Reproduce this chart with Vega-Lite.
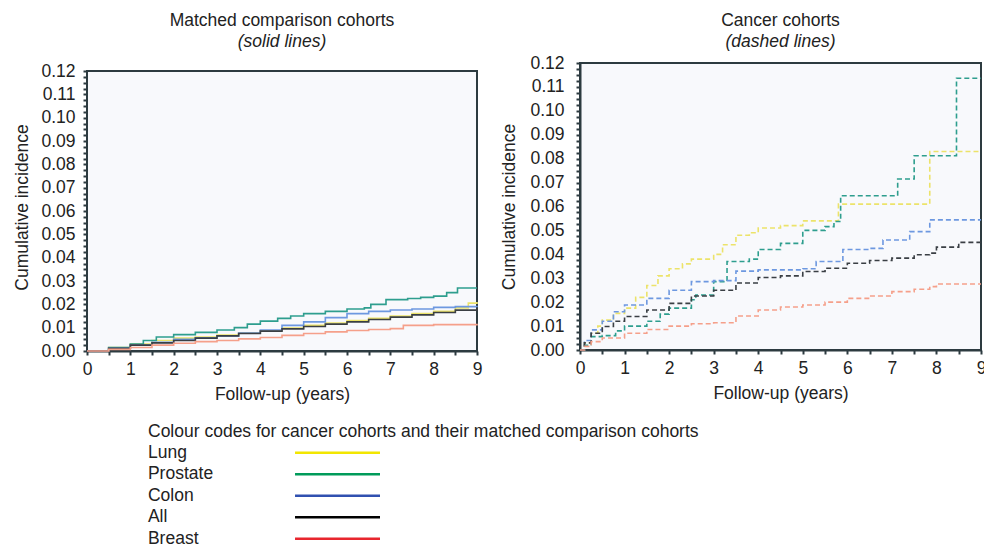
{
  "$schema": "https://vega.github.io/schema/vega-lite/v6.json",
  "padding": {"left": 13, "top": 11, "right": 0, "bottom": 0},
  "background": "white",
  "config": {
    "font": "Liberation Sans",
    "view": {"stroke": "#2d3b40", "strokeWidth": 2, "fill": "#f8f9fc"},
    "axis": {
      "labelFont": "Liberation Sans", "titleFont": "Liberation Sans",
      "labelFontSize": 17.5, "titleFontSize": 17.5, "titleFontWeight": "normal",
      "labelColor": "#222222", "titleColor": "#222222",
      "domainColor": "#2d3b40", "domainWidth": 2,
      "tickColor": "#2d3b40", "tickWidth": 2, "tickSize": 4,
      "grid": false, "labelOverlap": false, "labelFlush": false
    },
    "axisX": {"labelPadding": 5, "titlePadding": 8},
    "axisY": {"labelPadding": 8, "titlePadding": 9},
    "title": {"font": "Liberation Sans", "fontSize": 17.5, "fontWeight": "normal", "color": "#222222",
      "subtitleFont": "Liberation Sans", "subtitleFontSize": 17.5, "subtitleFontStyle": "italic", "subtitleColor": "#222222", "subtitlePadding": 3}
  },
  "datasets": {
    "matched": [
      {"cohort":"Lung","year":0,"ci":0},{"cohort":"Lung","year":0.5,"ci":0.0015},{"cohort":"Lung","year":1,"ci":0.003},{"cohort":"Lung","year":1.5,"ci":0.0045},{"cohort":"Lung","year":2,"ci":0.0055},{"cohort":"Lung","year":2.5,"ci":0.006},{"cohort":"Lung","year":3,"ci":0.0068},{"cohort":"Lung","year":3.5,"ci":0.0077},{"cohort":"Lung","year":4,"ci":0.0087},{"cohort":"Lung","year":4.5,"ci":0.0098},{"cohort":"Lung","year":5,"ci":0.011},{"cohort":"Lung","year":5.5,"ci":0.012},{"cohort":"Lung","year":6,"ci":0.013},{"cohort":"Lung","year":6.5,"ci":0.014},{"cohort":"Lung","year":7,"ci":0.015},{"cohort":"Lung","year":7.5,"ci":0.016},{"cohort":"Lung","year":8,"ci":0.017},{"cohort":"Lung","year":8.5,"ci":0.0185},{"cohort":"Lung","year":8.8,"ci":0.0205},{"cohort":"Lung","year":9,"ci":0.021},
      {"cohort":"Prostate","year":0,"ci":0},{"cohort":"Prostate","year":0.5,"ci":0.0015},{"cohort":"Prostate","year":1,"ci":0.003},{"cohort":"Prostate","year":1.3,"ci":0.0045},{"cohort":"Prostate","year":1.6,"ci":0.006},{"cohort":"Prostate","year":2,"ci":0.007},{"cohort":"Prostate","year":2.5,"ci":0.008},{"cohort":"Prostate","year":3,"ci":0.009},{"cohort":"Prostate","year":3.4,"ci":0.01},{"cohort":"Prostate","year":3.7,"ci":0.0115},{"cohort":"Prostate","year":4,"ci":0.0128},{"cohort":"Prostate","year":4.4,"ci":0.014},{"cohort":"Prostate","year":4.7,"ci":0.015},{"cohort":"Prostate","year":5,"ci":0.016},{"cohort":"Prostate","year":5.5,"ci":0.017},{"cohort":"Prostate","year":6,"ci":0.018},{"cohort":"Prostate","year":6.4,"ci":0.0185},{"cohort":"Prostate","year":6.55,"ci":0.02},{"cohort":"Prostate","year":6.9,"ci":0.022},{"cohort":"Prostate","year":7.4,"ci":0.0225},{"cohort":"Prostate","year":7.7,"ci":0.023},{"cohort":"Prostate","year":8,"ci":0.0235},{"cohort":"Prostate","year":8.3,"ci":0.025},{"cohort":"Prostate","year":8.55,"ci":0.027},{"cohort":"Prostate","year":9,"ci":0.027},
      {"cohort":"Colon","year":0,"ci":0},{"cohort":"Colon","year":0.5,"ci":0.0012},{"cohort":"Colon","year":1,"ci":0.0025},{"cohort":"Colon","year":1.5,"ci":0.0037},{"cohort":"Colon","year":2,"ci":0.005},{"cohort":"Colon","year":2.5,"ci":0.0057},{"cohort":"Colon","year":3,"ci":0.0065},{"cohort":"Colon","year":3.5,"ci":0.0077},{"cohort":"Colon","year":4,"ci":0.009},{"cohort":"Colon","year":4.5,"ci":0.011},{"cohort":"Colon","year":5,"ci":0.0125},{"cohort":"Colon","year":5.5,"ci":0.0143},{"cohort":"Colon","year":6,"ci":0.016},{"cohort":"Colon","year":6.5,"ci":0.017},{"cohort":"Colon","year":7,"ci":0.0176},{"cohort":"Colon","year":7.5,"ci":0.018},{"cohort":"Colon","year":8,"ci":0.0187},{"cohort":"Colon","year":8.5,"ci":0.019},{"cohort":"Colon","year":9,"ci":0.0194},
      {"cohort":"All","year":0,"ci":0},{"cohort":"All","year":0.5,"ci":0.0012},{"cohort":"All","year":1,"ci":0.0025},{"cohort":"All","year":1.5,"ci":0.0035},{"cohort":"All","year":2,"ci":0.0045},{"cohort":"All","year":2.5,"ci":0.0055},{"cohort":"All","year":3,"ci":0.0065},{"cohort":"All","year":3.5,"ci":0.0075},{"cohort":"All","year":4,"ci":0.0085},{"cohort":"All","year":4.5,"ci":0.0095},{"cohort":"All","year":5,"ci":0.0105},{"cohort":"All","year":5.5,"ci":0.0115},{"cohort":"All","year":6,"ci":0.0125},{"cohort":"All","year":6.5,"ci":0.0135},{"cohort":"All","year":7,"ci":0.0145},{"cohort":"All","year":7.5,"ci":0.0155},{"cohort":"All","year":8,"ci":0.0165},{"cohort":"All","year":8.5,"ci":0.0175},{"cohort":"All","year":9,"ci":0.0187},
      {"cohort":"Breast","year":0,"ci":0},{"cohort":"Breast","year":0.5,"ci":0.0007},{"cohort":"Breast","year":1,"ci":0.0015},{"cohort":"Breast","year":1.5,"ci":0.0025},{"cohort":"Breast","year":2,"ci":0.0033},{"cohort":"Breast","year":2.5,"ci":0.004},{"cohort":"Breast","year":3,"ci":0.0045},{"cohort":"Breast","year":3.5,"ci":0.0052},{"cohort":"Breast","year":4,"ci":0.0058},{"cohort":"Breast","year":4.5,"ci":0.0067},{"cohort":"Breast","year":5,"ci":0.0075},{"cohort":"Breast","year":5.5,"ci":0.0082},{"cohort":"Breast","year":6,"ci":0.0088},{"cohort":"Breast","year":6.5,"ci":0.0092},{"cohort":"Breast","year":7,"ci":0.0096},{"cohort":"Breast","year":7.3,"ci":0.011},{"cohort":"Breast","year":8,"ci":0.0113},{"cohort":"Breast","year":9,"ci":0.0117}
    ],
    "cancer": [
      {"cohort":"Lung","year":0,"ci":0},{"cohort":"Lung","year":0.1,"ci":0.003},{"cohort":"Lung","year":0.25,"ci":0.007},{"cohort":"Lung","year":0.4,"ci":0.01},{"cohort":"Lung","year":0.5,"ci":0.0125},{"cohort":"Lung","year":0.75,"ci":0.0153},{"cohort":"Lung","year":1,"ci":0.0175},{"cohort":"Lung","year":1.25,"ci":0.022},{"cohort":"Lung","year":1.5,"ci":0.027},{"cohort":"Lung","year":1.75,"ci":0.031},{"cohort":"Lung","year":2,"ci":0.034},{"cohort":"Lung","year":2.3,"ci":0.036},{"cohort":"Lung","year":2.5,"ci":0.038},{"cohort":"Lung","year":3,"ci":0.04},{"cohort":"Lung","year":3.2,"ci":0.044},{"cohort":"Lung","year":3.5,"ci":0.048},{"cohort":"Lung","year":3.8,"ci":0.049},{"cohort":"Lung","year":4,"ci":0.051},{"cohort":"Lung","year":4.5,"ci":0.052},{"cohort":"Lung","year":5,"ci":0.054},{"cohort":"Lung","year":5.8,"ci":0.061},{"cohort":"Lung","year":7.85,"ci":0.083},{"cohort":"Lung","year":9,"ci":0.083},
      {"cohort":"Prostate","year":0,"ci":0},{"cohort":"Prostate","year":0.1,"ci":0.002},{"cohort":"Prostate","year":0.25,"ci":0.0056},{"cohort":"Prostate","year":0.5,"ci":0.006},{"cohort":"Prostate","year":0.8,"ci":0.008},{"cohort":"Prostate","year":1,"ci":0.01},{"cohort":"Prostate","year":1.5,"ci":0.012},{"cohort":"Prostate","year":1.8,"ci":0.015},{"cohort":"Prostate","year":2,"ci":0.0175},{"cohort":"Prostate","year":2.5,"ci":0.021},{"cohort":"Prostate","year":2.6,"ci":0.023},{"cohort":"Prostate","year":3,"ci":0.0286},{"cohort":"Prostate","year":3.3,"ci":0.037},{"cohort":"Prostate","year":3.8,"ci":0.038},{"cohort":"Prostate","year":4,"ci":0.042},{"cohort":"Prostate","year":4.5,"ci":0.0446},{"cohort":"Prostate","year":5,"ci":0.05},{"cohort":"Prostate","year":5.5,"ci":0.0516},{"cohort":"Prostate","year":5.7,"ci":0.0537},{"cohort":"Prostate","year":5.85,"ci":0.0645},{"cohort":"Prostate","year":7.13,"ci":0.0715},{"cohort":"Prostate","year":7.5,"ci":0.0812},{"cohort":"Prostate","year":8.45,"ci":0.1136},{"cohort":"Prostate","year":9,"ci":0.1136},
      {"cohort":"Colon","year":0,"ci":0},{"cohort":"Colon","year":0.1,"ci":0.004},{"cohort":"Colon","year":0.25,"ci":0.0084},{"cohort":"Colon","year":0.5,"ci":0.012},{"cohort":"Colon","year":0.75,"ci":0.016},{"cohort":"Colon","year":1,"ci":0.0188},{"cohort":"Colon","year":1.5,"ci":0.0216},{"cohort":"Colon","year":2,"ci":0.025},{"cohort":"Colon","year":2.5,"ci":0.0286},{"cohort":"Colon","year":3,"ci":0.029},{"cohort":"Colon","year":3.5,"ci":0.033},{"cohort":"Colon","year":4,"ci":0.0335},{"cohort":"Colon","year":5,"ci":0.034},{"cohort":"Colon","year":5.3,"ci":0.037},{"cohort":"Colon","year":5.9,"ci":0.042},{"cohort":"Colon","year":6.5,"ci":0.0425},{"cohort":"Colon","year":6.8,"ci":0.046},{"cohort":"Colon","year":7.4,"ci":0.0495},{"cohort":"Colon","year":7.85,"ci":0.0544},{"cohort":"Colon","year":9,"ci":0.0544},
      {"cohort":"All","year":0,"ci":0},{"cohort":"All","year":0.1,"ci":0.003},{"cohort":"All","year":0.25,"ci":0.007},{"cohort":"All","year":0.5,"ci":0.0098},{"cohort":"All","year":0.75,"ci":0.012},{"cohort":"All","year":1,"ci":0.014},{"cohort":"All","year":1.5,"ci":0.0167},{"cohort":"All","year":2,"ci":0.0195},{"cohort":"All","year":2.5,"ci":0.0226},{"cohort":"All","year":3,"ci":0.025},{"cohort":"All","year":3.5,"ci":0.028},{"cohort":"All","year":4,"ci":0.0303},{"cohort":"All","year":4.5,"ci":0.031},{"cohort":"All","year":5,"ci":0.0328},{"cohort":"All","year":5.5,"ci":0.0342},{"cohort":"All","year":6,"ci":0.0363},{"cohort":"All","year":6.5,"ci":0.0374},{"cohort":"All","year":7,"ci":0.0384},{"cohort":"All","year":7.5,"ci":0.0398},{"cohort":"All","year":7.85,"ci":0.0405},{"cohort":"All","year":8,"ci":0.043},{"cohort":"All","year":8.5,"ci":0.045},{"cohort":"All","year":9,"ci":0.045},
      {"cohort":"Breast","year":0,"ci":0},{"cohort":"Breast","year":0.1,"ci":0.0015},{"cohort":"Breast","year":0.25,"ci":0.0035},{"cohort":"Breast","year":0.5,"ci":0.005},{"cohort":"Breast","year":1,"ci":0.007},{"cohort":"Breast","year":1.5,"ci":0.0086},{"cohort":"Breast","year":2,"ci":0.01},{"cohort":"Breast","year":2.5,"ci":0.011},{"cohort":"Breast","year":3,"ci":0.0114},{"cohort":"Breast","year":3.5,"ci":0.0142},{"cohort":"Breast","year":4,"ci":0.0167},{"cohort":"Breast","year":4.5,"ci":0.018},{"cohort":"Breast","year":5,"ci":0.0188},{"cohort":"Breast","year":5.5,"ci":0.02},{"cohort":"Breast","year":6,"ci":0.0216},{"cohort":"Breast","year":6.5,"ci":0.0226},{"cohort":"Breast","year":7,"ci":0.0244},{"cohort":"Breast","year":7.5,"ci":0.0254},{"cohort":"Breast","year":7.85,"ci":0.0265},{"cohort":"Breast","year":8,"ci":0.0276},{"cohort":"Breast","year":9,"ci":0.0276}
    ],
    "legendrows": [
      {"cohort":"Lung"},{"cohort":"Prostate"},{"cohort":"Colon"},{"cohort":"All"},{"cohort":"Breast"}
    ],
    "frame": [{"x0": 0, "x1": 9, "y0": 0, "y1": 0.12}]
  },
  "resolve": {"scale": {"color": "independent"}},
  "spacing": 19,
  "vconcat": [
    {
      "spacing": 17,
      "align": "none",
      "resolve": {"scale": {"color": "independent"}},
      "hconcat": [
        {
          "width": 390, "height": 288,
          "view": {"stroke": null, "fill": null},
          "title": {"text": "Matched comparison cohorts", "subtitle": "(solid lines)", "offset": 12},
          "layer": [
            {
              "data": {"name": "frame"},
              "mark": {"type": "rect", "fill": "#f8f9fc", "stroke": "#2d3b40", "strokeWidth": 2},
              "encoding": {
                "x": {"field": "x0", "type": "quantitative"},
                "x2": {"field": "x1"},
                "y": {"field": "y0", "type": "quantitative"},
                "y2": {"field": "y1"}
              }
            },
            {
              "data": {"name": "matched"},
              "mark": {"type": "line", "interpolate": "step-after", "strokeWidth": 1.6},
              "encoding": {
                "x": {"field": "year", "type": "quantitative"},
                "y": {"field": "ci", "type": "quantitative"},
                "color": {"field": "cohort", "type": "nominal", "legend": null,
                  "scale": {"domain": ["Lung","Prostate","Colon","All","Breast"], "range": ["#ece36a","#2e9e8e","#6d98e0","#3a3f44","#f5a08a"]}}
              }
            }
          ],
          "encoding": {
            "x": {"type": "quantitative", "scale": {"domain": [0, 9], "nice": false},
              "axis": {"title": "Follow-up (years)", "format": ".0f", "values": [0,0.5,1,1.5,2,2.5,3,3.5,4,4.5,5,5.5,6,6.5,7,7.5,8,8.5,9],
                "labelExpr": "datum.value % 1 === 0 ? datum.label : ''"}},
            "y": {"type": "quantitative", "scale": {"domain": [0, 0.123429], "nice": false},
              "axis": {"title": "Cumulative incidence", "format": ".2f", "domain": false,
                "values": [0,0.0025,0.005,0.0075,0.01,0.0125,0.015,0.0175,0.02,0.0225,0.025,0.0275,0.03,0.0325,0.035,0.0375,0.04,0.0425,0.045,0.0475,0.05,0.0525,0.055,0.0575,0.06,0.0625,0.065,0.0675,0.07,0.0725,0.075,0.0775,0.08,0.0825,0.085,0.0875,0.09,0.0925,0.095,0.0975,0.1,0.1025,0.105,0.1075,0.11,0.1125,0.115,0.1175,0.12],
                "labelExpr": "abs(datum.value * 100 - round(datum.value * 100)) < 0.001 ? datum.label : ''"}}
          }
        },
        {
          "width": 401, "height": 287,
          "title": {"text": "Cancer cohorts", "subtitle": "(dashed lines)", "offset": 4},
          "data": {"name": "cancer"},
          "mark": {"type": "line", "interpolate": "step-after", "strokeWidth": 1.6, "strokeDash": [5, 3]},
          "encoding": {
            "x": {"field": "year", "type": "quantitative", "scale": {"domain": [0, 9], "nice": false},
              "axis": {"title": "Follow-up (years)", "format": ".0f", "values": [0,0.5,1,1.5,2,2.5,3,3.5,4,4.5,5,5.5,6,6.5,7,7.5,8,8.5,9],
                "labelExpr": "datum.value % 1 === 0 ? datum.label : ''"}},
            "y": {"field": "ci", "type": "quantitative", "scale": {"domain": [0, 0.12], "nice": false},
              "axis": {"title": "Cumulative incidence", "format": ".2f", "labelPadding": 12, "titlePadding": 11,
                "values": [0,0.0025,0.005,0.0075,0.01,0.0125,0.015,0.0175,0.02,0.0225,0.025,0.0275,0.03,0.0325,0.035,0.0375,0.04,0.0425,0.045,0.0475,0.05,0.0525,0.055,0.0575,0.06,0.0625,0.065,0.0675,0.07,0.0725,0.075,0.0775,0.08,0.0825,0.085,0.0875,0.09,0.0925,0.095,0.0975,0.1,0.1025,0.105,0.1075,0.11,0.1125,0.115,0.1175,0.12],
                "labelExpr": "abs(datum.value * 100 - round(datum.value * 100)) < 0.001 ? datum.label : ''"}},
            "color": {"field": "cohort", "type": "nominal", "legend": null,
              "scale": {"domain": ["Lung","Prostate","Colon","All","Breast"], "range": ["#ece36a","#2e9e8e","#6d98e0","#3a3f44","#f5a08a"]}}
          }
        }
      ]
    },
    {
      "width": 293, "height": 107.5,
      "view": {"stroke": null, "fill": null},
      "title": {"text": "Colour codes for cancer cohorts and their matched comparison cohorts", "anchor": "start", "frame": "group", "dx": 61, "offset": 2},
      "data": {"name": "legendrows"},
      "layer": [
        {
          "mark": {"type": "text", "align": "left", "baseline": "middle", "fontSize": 17.5, "color": "#222222", "font": "Liberation Sans"},
          "encoding": {
            "x": {"datum": 20.8, "type": "quantitative", "scale": {"domain": [0, 100]}, "axis": null},
            "y": {"field": "cohort", "type": "nominal", "sort": null, "axis": null},
            "text": {"field": "cohort"}
          }
        },
        {
          "mark": {"type": "rule", "strokeWidth": 2.5},
          "encoding": {
            "x": {"datum": 71.0, "type": "quantitative"},
            "x2": {"datum": 100},
            "y": {"field": "cohort", "type": "nominal", "sort": null, "axis": null},
            "color": {"field": "cohort", "type": "nominal", "legend": null,
              "scale": {"domain": ["Lung","Prostate","Colon","All","Breast"], "range": ["#f2e600","#009b5a","#3050b0","#000000","#e8262e"]}}
          }
        }
      ]
    }
  ]
}
